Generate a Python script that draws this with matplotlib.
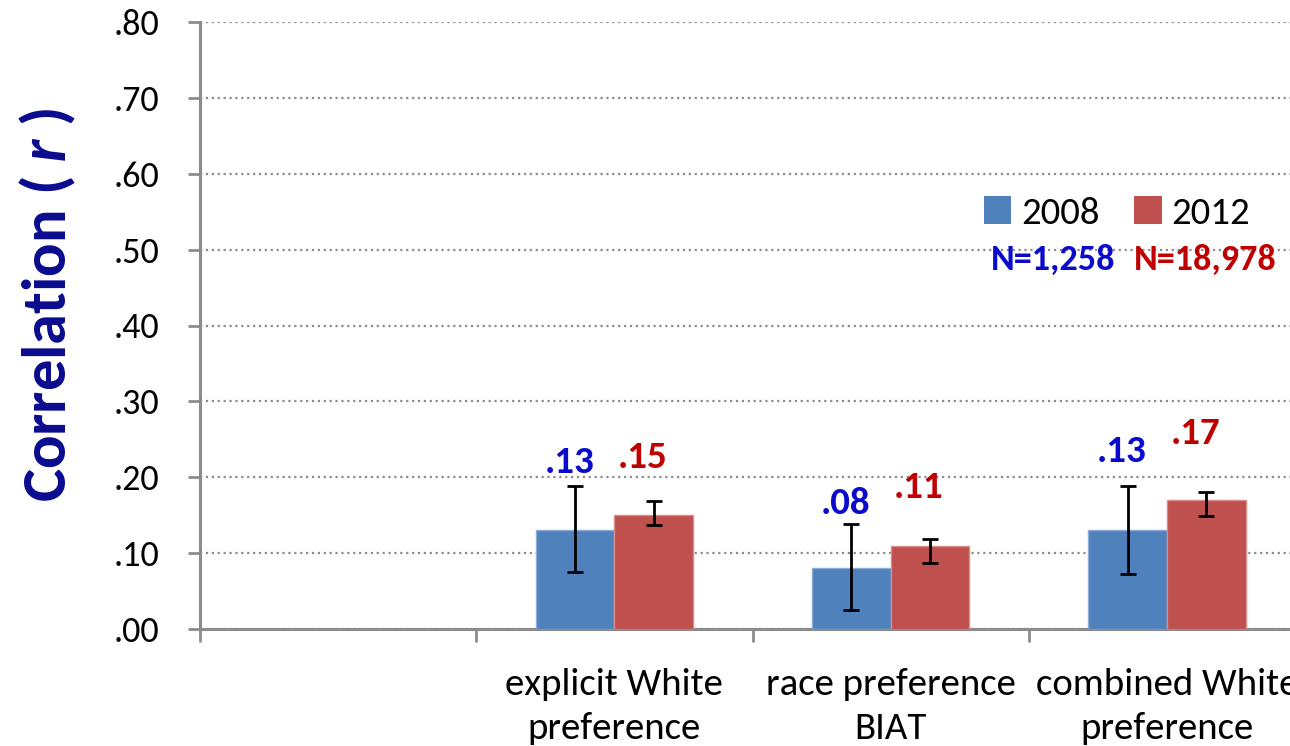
import numpy as np
import matplotlib
matplotlib.use("Agg")
import matplotlib.pyplot as plt
from matplotlib.patches import Patch

plt.rcParams['font.family'] = ['Carlito', 'Lato', 'DejaVu Sans']
plt.rcParams['mathtext.fontset'] = 'custom'
plt.rcParams['mathtext.bfit'] = 'Lato:italic:bold'

categories = ["", "explicit White\npreference", "race preference\nBIAT", "combined White\npreference"]
years = ["2008", "2012"]
sample_sizes = ["N=1,258", "N=18,978"]

# correlations per measure (first slot has no data)
r_2008 = [0.13, 0.08, 0.13]
r_2012 = [0.15, 0.11, 0.17]
# confidence intervals
ci_low_2008 = [0.075, 0.025, 0.072]
ci_high_2008 = [0.188, 0.138, 0.188]
ci_low_2012 = [0.137, 0.087, 0.149]
ci_high_2012 = [0.169, 0.119, 0.181]
value_labels_2008 = [".13", ".08", ".13"]
value_labels_2012 = [".15", ".11", ".17"]

blue = "#4F81BD"
red = "#C0504D"
label_blue = "#0A0ACC"
label_red = "#C00000"
grey = "#8C8C8C"

fig = plt.figure(figsize=(12.9, 7.46), dpi=100)
ax = fig.add_axes([200 / 1290, 1 - 629 / 746, 1105 / 1290, 607 / 746])

x = np.arange(1, len(categories))
w = 0.285

r08 = np.array(r_2008)
r12 = np.array(r_2012)
err08 = [r08 - np.array(ci_low_2008), np.array(ci_high_2008) - r08]
err12 = [r12 - np.array(ci_low_2012), np.array(ci_high_2012) - r12]

ax.bar(x - w / 2, r08, w, color=blue, edgecolor="#8EAAD6", linewidth=1, zorder=3)
ax.bar(x + w / 2, r12, w, color=red, edgecolor="#D98C8A", linewidth=1, zorder=3)
ax.errorbar(x - w / 2, r08, yerr=err08, fmt="none", ecolor="black",
            elinewidth=2, capsize=6, capthick=2, zorder=4)
ax.errorbar(x + w / 2, r12, yerr=err12, fmt="none", ecolor="black",
            elinewidth=2, capsize=6, capthick=2, zorder=4)

# value labels sit above the error bars
label_y_2008 = [0.206, 0.151, 0.220]
label_y_2012 = [0.212, 0.172, 0.244]
for xi, txt, yy in zip(x - w / 2, value_labels_2008, label_y_2008):
    ax.text(xi - 0.02, yy, txt, ha="center", va="baseline", fontsize=28,
            fontweight="bold", color=label_blue, zorder=5)
for xi, txt, yy in zip(x + w / 2, value_labels_2012, label_y_2012):
    ax.text(xi - 0.04, yy, txt, ha="center", va="baseline", fontsize=28,
            fontweight="bold", color=label_red, zorder=5)

ax.set_xlim(-0.5, len(categories) - 0.5)
ax.set_ylim(0, 0.8)
ax.set_yticks(np.arange(0, 0.81, 0.1))
ax.set_yticklabels([("%.2f" % v)[1:] for v in np.arange(0, 0.81, 0.1)])
ax.yaxis.grid(True, linestyle=":", linewidth=1.6, color=grey, zorder=0)
ax.set_axisbelow(True)

# boundaries as major ticks, names centred as minor ticks
ax.set_xticks(np.arange(-0.5, len(categories), 1.0))
ax.set_xticklabels([])
ax.set_xticks(np.arange(len(categories)), minor=True)
ax.set_xticklabels(categories, minor=True, fontsize=28, linespacing=1.4)
ax.tick_params(axis="x", which="minor", length=0, pad=28)
ax.tick_params(axis="x", which="major", length=9, width=2, color=grey)
ax.tick_params(axis="y", length=9, width=2, color=grey, labelsize=26, pad=20)

for side in ["top", "right"]:
    ax.spines[side].set_visible(False)
for side in ["left", "bottom"]:
    ax.spines[side].set_color(grey)
    ax.spines[side].set_linewidth(2.2)

ax.set_ylabel("Correlation ( $\\mathbfit{r}$ )", fontsize=45, fontweight="bold",
              color="#0B0B8F")
ax.yaxis.set_label_coords(-0.11, 0.534)

handles = [Patch(facecolor=blue), Patch(facecolor=red)]
fig.legend(handles, years, loc="center left", bbox_to_anchor=(984 / 1290, 1 - 213 / 746),
           ncol=2, frameon=False, fontsize=28, handlelength=0.7, handleheight=0.7,
           handletextpad=0.25, columnspacing=0.9, borderpad=0, borderaxespad=0)
fig.text(1053 / 1290, 1 - 260 / 746, sample_sizes[0], ha="center", va="center",
         fontsize=26, fontweight="bold", color=label_blue)
fig.text(1205 / 1290, 1 - 260 / 746, sample_sizes[1], ha="center", va="center",
         fontsize=26, fontweight="bold", color=label_red)

fig.savefig("out.png", dpi=100)
